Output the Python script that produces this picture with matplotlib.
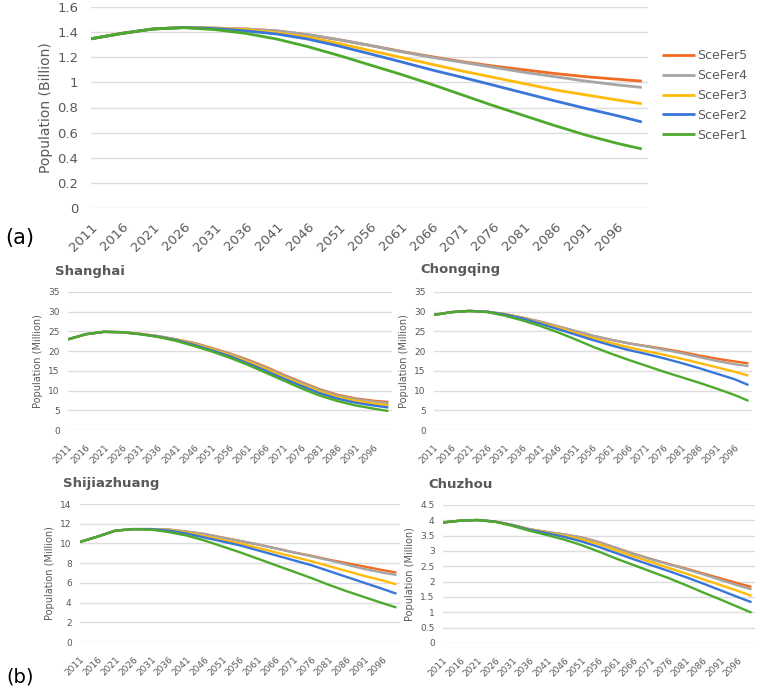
import matplotlib
matplotlib.use("Agg")
import matplotlib.pyplot as plt
from matplotlib.ticker import FuncFormatter

W, H = 760, 690

# data: years and population per fertility scenario
years = [2011, 2016, 2021, 2026, 2031, 2036, 2041, 2046, 2051, 2056,
         2061, 2066, 2071, 2076, 2081, 2086, 2091, 2096, 2100]
tick_years = list(range(2011, 2097, 5))
scenarios = ["SceFer5", "SceFer4", "SceFer3", "SceFer2", "SceFer1"]

china_fer5 = [1.347, 1.39, 1.425, 1.437, 1.432, 1.425, 1.41, 1.38, 1.34, 1.295,
              1.248, 1.205, 1.165, 1.13, 1.10, 1.07, 1.045, 1.025, 1.01]
china_fer4 = [1.347, 1.39, 1.425, 1.437, 1.432, 1.425, 1.41, 1.38, 1.34, 1.295,
              1.245, 1.20, 1.16, 1.12, 1.08, 1.045, 1.01, 0.98, 0.96]
china_fer3 = [1.347, 1.39, 1.425, 1.437, 1.43, 1.42, 1.395, 1.36, 1.31, 1.255,
              1.20, 1.145, 1.09, 1.04, 0.99, 0.94, 0.90, 0.86, 0.83]
china_fer2 = [1.347, 1.39, 1.425, 1.437, 1.428, 1.41, 1.385, 1.345, 1.29, 1.228,
              1.165, 1.10, 1.04, 0.978, 0.915, 0.852, 0.792, 0.735, 0.685]
china_fer1 = [1.347, 1.39, 1.425, 1.435, 1.42, 1.39, 1.345, 1.285, 1.215, 1.14,
              1.065, 0.985, 0.90, 0.815, 0.735, 0.655, 0.58, 0.515, 0.47]

shanghai_fer5 = [23.0, 24.3, 24.9, 24.8, 24.4, 23.8, 23.0, 22.1, 20.8, 19.4,
                 17.8, 16.0, 14.0, 12.1, 10.3, 8.9, 8.0, 7.4, 7.1]
shanghai_fer4 = [23.0, 24.3, 24.9, 24.8, 24.4, 23.8, 23.0, 22.0, 20.7, 19.3,
                 17.6, 15.8, 13.8, 11.9, 10.1, 8.7, 7.8, 7.2, 6.8]
shanghai_fer3 = [23.0, 24.3, 24.9, 24.8, 24.4, 23.7, 22.9, 21.8, 20.5, 19.0,
                 17.3, 15.4, 13.4, 11.5, 9.7, 8.3, 7.4, 6.7, 6.3]
shanghai_fer2 = [23.0, 24.3, 24.9, 24.8, 24.3, 23.7, 22.8, 21.6, 20.2, 18.7,
                 16.9, 15.0, 13.0, 11.1, 9.3, 7.9, 6.9, 6.2, 5.7]
shanghai_fer1 = [23.0, 24.3, 24.9, 24.8, 24.3, 23.6, 22.6, 21.3, 19.9, 18.3,
                 16.5, 14.5, 12.5, 10.5, 8.7, 7.3, 6.2, 5.4, 4.8]

chongqing_fer5 = [29.2, 29.9, 30.2, 30.0, 29.4, 28.5, 27.5, 26.3, 25.1, 23.9,
                  22.9, 22.0, 21.3, 20.6, 19.8, 18.9, 18.1, 17.4, 16.9]
chongqing_fer4 = [29.2, 29.9, 30.2, 30.0, 29.4, 28.5, 27.5, 26.3, 25.1, 23.9,
                  22.9, 22.0, 21.2, 20.4, 19.5, 18.5, 17.5, 16.7, 16.2]
chongqing_fer3 = [29.2, 29.9, 30.2, 30.0, 29.4, 28.4, 27.2, 26.0, 24.6, 23.3,
                  22.1, 21.0, 20.0, 19.1, 18.1, 17.0, 15.9, 14.8, 13.8]
chongqing_fer2 = [29.2, 29.9, 30.2, 30.0, 29.3, 28.3, 27.0, 25.6, 24.2, 22.8,
                  21.5, 20.3, 19.3, 18.2, 17.0, 15.7, 14.3, 12.9, 11.4]
chongqing_fer1 = [29.2, 29.9, 30.2, 29.9, 29.0, 27.8, 26.4, 24.8, 23.0, 21.1,
                  19.4, 17.8, 16.3, 14.8, 13.4, 12.0, 10.5, 8.9, 7.4]

shijiazhuang_fer5 = [10.15, 10.7, 11.3, 11.45, 11.45, 11.4, 11.2, 10.95, 10.6, 10.25,
                     9.9, 9.5, 9.1, 8.75, 8.35, 8.0, 7.65, 7.3, 7.05]
shijiazhuang_fer4 = [10.15, 10.7, 11.3, 11.45, 11.45, 11.4, 11.2, 10.95, 10.6, 10.25,
                     9.9, 9.5, 9.1, 8.7, 8.3, 7.85, 7.4, 7.05, 6.8]
shijiazhuang_fer3 = [10.15, 10.7, 11.3, 11.45, 11.45, 11.35, 11.1, 10.75, 10.35, 10.0,
                     9.55, 9.1, 8.65, 8.2, 7.7, 7.2, 6.7, 6.25, 5.85]
shijiazhuang_fer2 = [10.15, 10.7, 11.3, 11.45, 11.45, 11.3, 11.0, 10.6, 10.2, 9.8,
                     9.3, 8.8, 8.3, 7.8, 7.2, 6.6, 6.0, 5.4, 4.9]
shijiazhuang_fer1 = [10.15, 10.7, 11.3, 11.45, 11.4, 11.15, 10.8, 10.3, 9.7, 9.1,
                     8.45, 7.8, 7.15, 6.5, 5.8, 5.15, 4.55, 3.95, 3.5]

chuzhou_fer5 = [3.93, 3.99, 4.01, 3.96, 3.85, 3.71, 3.62, 3.54, 3.44, 3.29,
                3.10, 2.91, 2.74, 2.58, 2.43, 2.27, 2.11, 1.95, 1.83]
chuzhou_fer4 = [3.93, 3.99, 4.01, 3.96, 3.85, 3.71, 3.62, 3.54, 3.44, 3.29,
                3.09, 2.90, 2.73, 2.57, 2.41, 2.24, 2.06, 1.88, 1.75]
chuzhou_fer3 = [3.93, 3.99, 4.01, 3.96, 3.85, 3.70, 3.60, 3.50, 3.38, 3.22,
                3.02, 2.82, 2.64, 2.45, 2.27, 2.08, 1.89, 1.70, 1.54]
chuzhou_fer2 = [3.93, 3.99, 4.01, 3.96, 3.84, 3.69, 3.58, 3.46, 3.31, 3.13,
                2.93, 2.73, 2.54, 2.35, 2.15, 1.94, 1.72, 1.50, 1.33]
chuzhou_fer1 = [3.93, 3.99, 4.01, 3.95, 3.82, 3.66, 3.52, 3.37, 3.19, 2.98,
                2.75, 2.54, 2.33, 2.12, 1.89, 1.65, 1.42, 1.18, 0.99]

colors = ["#F26B21", "#A5A5A5", "#FFBA0A", "#3A76D8", "#4DAA2C"]
grid_c = "#DDDDDD"
text_c = "#595959"


def frac(left, top, right, bottom):
    return [left / W, 1 - bottom / H, (right - left) / W, (bottom - top) / H]


def style_axis(ax, yticks, tick_fs, xpad, ypad):
    for s in ax.spines.values():
        s.set_visible(False)
    ax.set_xlim(2011, 2101)
    ax.set_ylim(yticks[0], yticks[-1])
    ax.set_yticks(yticks)
    ax.yaxis.set_major_formatter(FuncFormatter(lambda v, p: f"{v:g}"))
    ax.set_xticks(tick_years)
    ax.set_xticklabels([str(y) for y in tick_years], rotation=45,
                       ha="right", rotation_mode="anchor")
    ax.tick_params(length=0, labelsize=tick_fs, colors=text_c)
    ax.tick_params(axis="x", pad=xpad)
    ax.tick_params(axis="y", pad=ypad)
    ax.grid(axis="y", color=grid_c, lw=1)
    ax.set_axisbelow(True)


fig = plt.figure(figsize=(W / 100, H / 100), dpi=100)

# (a) national total
ax = fig.add_axes(frac(91, 7, 648, 208))
series = [china_fer5, china_fer4, china_fer3, china_fer2, china_fer1]
for name, vals, c in zip(scenarios, series, colors):
    ax.plot(years, vals, color=c, lw=2.0, label=name, solid_capstyle="butt")
style_axis(ax, [0, 0.2, 0.4, 0.6, 0.8, 1.0, 1.2, 1.4, 1.6], 9.5, 9, 9)
ax.set_ylabel("Population (Billion)", fontsize=10, color=text_c, labelpad=3)
ax.legend(loc="center left", bbox_to_anchor=(1.005, 0.56), frameon=False,
          fontsize=9, handlelength=2.6, handletextpad=0.2, labelspacing=0.55,
          labelcolor=text_c)

# (b) cities
cities = [
    ("Shanghai", (68, 292, 392, 430), [0, 5, 10, 15, 20, 25, 30, 35],
     [shanghai_fer5, shanghai_fer4, shanghai_fer3, shanghai_fer2, shanghai_fer1], (55, 271)),
    ("Chongqing", (434, 292, 752, 430), [0, 5, 10, 15, 20, 25, 30, 35],
     [chongqing_fer5, chongqing_fer4, chongqing_fer3, chongqing_fer2, chongqing_fer1], (420, 270)),
    ("Shijiazhuang", (80, 504, 400, 642), [0, 2, 4, 6, 8, 10, 12, 14],
     [shijiazhuang_fer5, shijiazhuang_fer4, shijiazhuang_fer3, shijiazhuang_fer2, shijiazhuang_fer1], (63, 483)),
    ("Chuzhou", (443, 505, 755, 643), [0, 0.5, 1, 1.5, 2, 2.5, 3, 3.5, 4, 4.5],
     [chuzhou_fer5, chuzhou_fer4, chuzhou_fer3, chuzhou_fer2, chuzhou_fer1], (428, 484)),
]
for title, box, yt, series, tpos in cities:
    ax = fig.add_axes(frac(*box))
    for vals, c in zip(series, colors):
        ax.plot(years, vals, color=c, lw=1.7, solid_capstyle="butt")
    style_axis(ax, yt, 6.5, 9, 6)
    ax.set_ylabel("Population (Million)", fontsize=7, color=text_c, labelpad=4)
    fig.text(tpos[0] / W, 1 - tpos[1] / H, title, fontsize=9.5, fontweight="bold",
             color=text_c, va="center", ha="left")

fig.text(5 / W, 1 - 238 / H, "(a)", fontsize=15, va="center", ha="left")
fig.text(6 / W, 1 - 677 / H, "(b)", fontsize=14, va="center", ha="left")

fig.savefig("out.png", dpi=100)
